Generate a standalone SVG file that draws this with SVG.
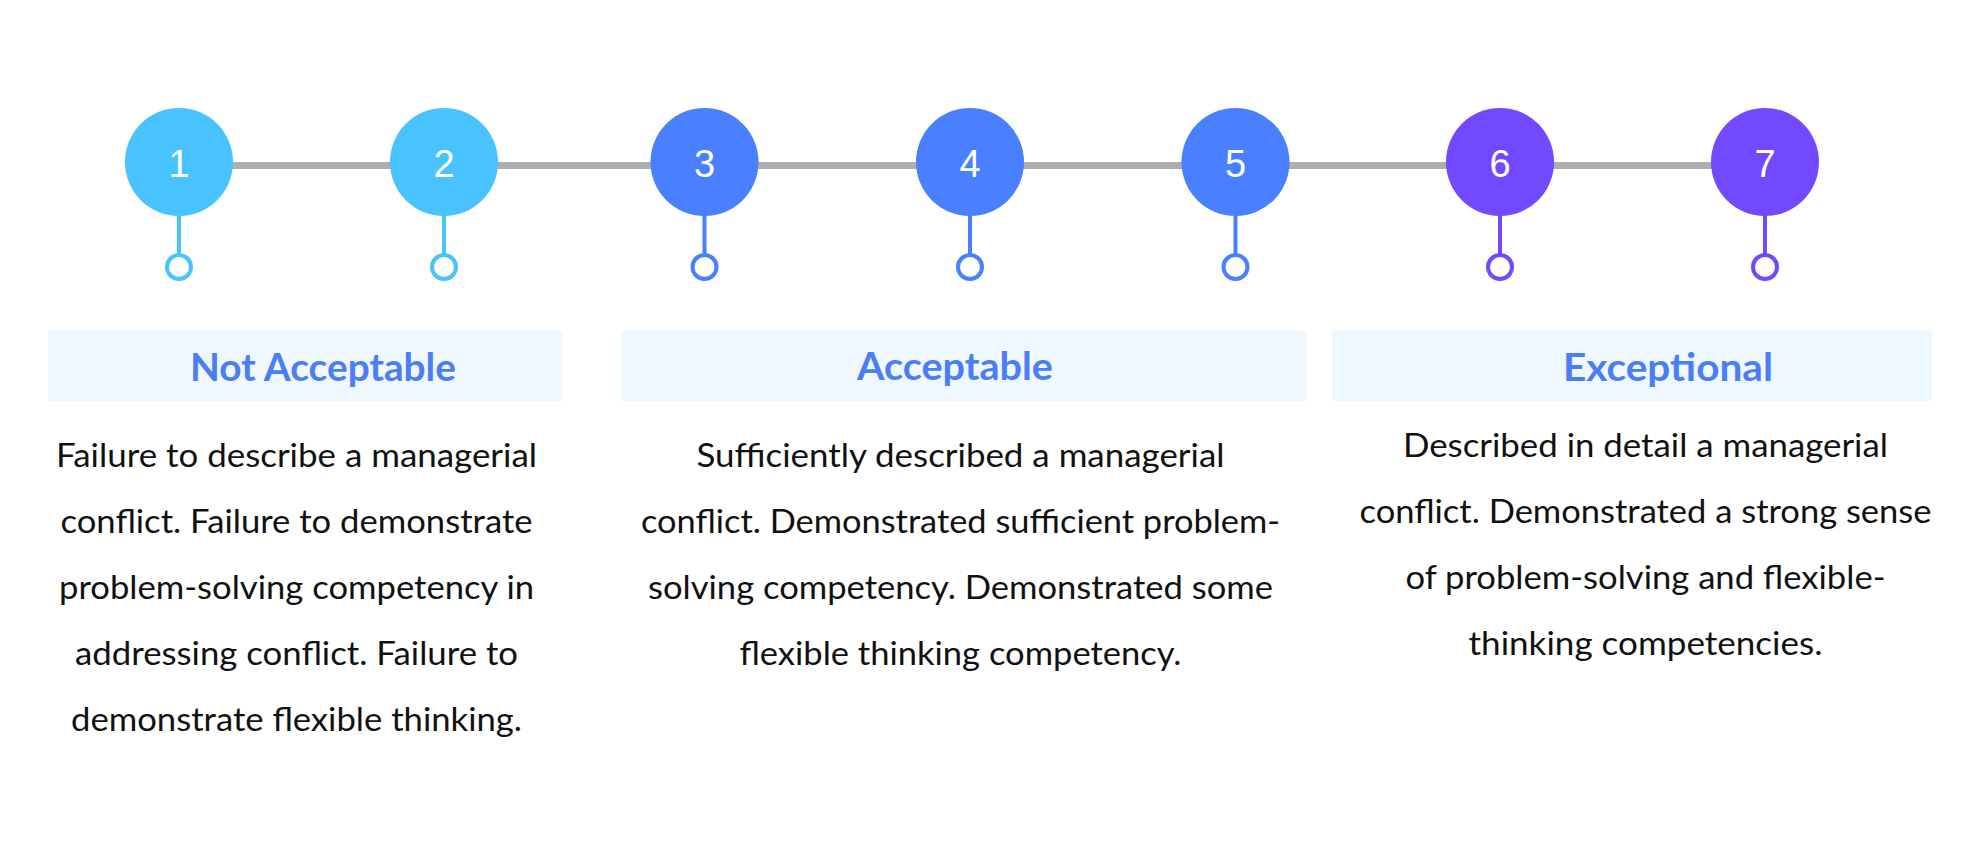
<svg xmlns="http://www.w3.org/2000/svg" width="1980" height="850" viewBox="0 0 1980 850">
<style>
.num{font-family:"Liberation Sans",Arial,sans-serif;font-size:38px;fill:#ffffff;text-anchor:middle}
.title{font-family:Lato,"Noto Sans",sans-serif;font-weight:bold;font-size:39px;fill:#4a7df6;text-anchor:middle}
.body{font-family:Lato,"Noto Sans",sans-serif;font-size:33px;fill:#111111;text-anchor:middle}
.box{fill:#eff7ff}
.c1{fill:#48c3ff}.c2{fill:#4880ff}.c3{fill:#7349ff}
.s1{stroke:#48c3ff}.s2{stroke:#4880ff}.s3{stroke:#7349ff}
.stem{stroke-width:4;fill:none}
.dot{stroke-width:4;fill:#ffffff}
</style>
<rect width="1980" height="850" fill="#ffffff"/>
<g id="connectors">
<line x1="179" y1="165.5" x2="1765" y2="165.5" stroke="#aeaeae" stroke-width="7"/>
<line class="stem s1" x1="179" y1="214" x2="179" y2="255"/>
<line class="stem s1" x1="444" y1="214" x2="444" y2="255"/>
<line class="stem s2" x1="704.5" y1="214" x2="704.5" y2="255"/>
<line class="stem s2" x1="970" y1="214" x2="970" y2="255"/>
<line class="stem s2" x1="1235.5" y1="214" x2="1235.5" y2="255"/>
<line class="stem s3" x1="1500" y1="214" x2="1500" y2="255"/>
<line class="stem s3" x1="1765" y1="214" x2="1765" y2="255"/>
</g>
<g id="step1"><circle class="c1" cx="179" cy="162" r="54"/><text class="num" x="179" y="177">1</text><circle class="dot s1" cx="179" cy="267" r="12"/></g>
<g id="step2"><circle class="c1" cx="444" cy="162" r="54"/><text class="num" x="444" y="177">2</text><circle class="dot s1" cx="444" cy="267" r="12"/></g>
<g id="step3"><circle class="c2" cx="704.5" cy="162" r="54"/><text class="num" x="704.5" y="177">3</text><circle class="dot s2" cx="704.5" cy="267" r="12"/></g>
<g id="step4"><circle class="c2" cx="970" cy="162" r="54"/><text class="num" x="970" y="177">4</text><circle class="dot s2" cx="970" cy="267" r="12"/></g>
<g id="step5"><circle class="c2" cx="1235.5" cy="162" r="54"/><text class="num" x="1235.5" y="177">5</text><circle class="dot s2" cx="1235.5" cy="267" r="12"/></g>
<g id="step6"><circle class="c3" cx="1500" cy="162" r="54"/><text class="num" x="1500" y="177">6</text><circle class="dot s3" cx="1500" cy="267" r="12"/></g>
<g id="step7"><circle class="c3" cx="1765" cy="162" r="54"/><text class="num" x="1765" y="177">7</text><circle class="dot s3" cx="1765" cy="267" r="12"/></g>
<g id="not-acceptable">
<rect class="box" x="48" y="331" width="514" height="70"/>
<text class="title" x="323" y="381" textLength="266" lengthAdjust="spacingAndGlyphs">Not Acceptable</text>
<text class="body" x="296.5" y="467" textLength="481" lengthAdjust="spacingAndGlyphs">Failure to describe a managerial</text>
<text class="body" x="296.5" y="533" textLength="472" lengthAdjust="spacingAndGlyphs">conflict. Failure to demonstrate</text>
<text class="body" x="296.5" y="599" textLength="475" lengthAdjust="spacingAndGlyphs">problem-solving competency in</text>
<text class="body" x="296.5" y="665" textLength="443" lengthAdjust="spacingAndGlyphs">addressing conflict. Failure to</text>
<text class="body" x="296.5" y="731" textLength="451" lengthAdjust="spacingAndGlyphs">demonstrate flexible thinking.</text>
</g>
<g id="acceptable">
<rect class="box" x="621" y="331" width="686" height="70"/>
<text class="title" x="955" y="379.5" textLength="196" lengthAdjust="spacingAndGlyphs">Acceptable</text>
<text class="body" x="960.5" y="467" textLength="528" lengthAdjust="spacingAndGlyphs">Sufficiently described a managerial</text>
<text class="body" x="960.5" y="533" textLength="639" lengthAdjust="spacingAndGlyphs">conflict. Demonstrated sufficient problem-</text>
<text class="body" x="960.5" y="599" textLength="625" lengthAdjust="spacingAndGlyphs">solving competency. Demonstrated some</text>
<text class="body" x="960.5" y="665" textLength="442" lengthAdjust="spacingAndGlyphs">flexible thinking competency.</text>
</g>
<g id="exceptional">
<rect class="box" x="1332" y="331" width="600" height="70"/>
<text class="title" x="1668" y="381" textLength="210" lengthAdjust="spacingAndGlyphs">Exceptional</text>
<text class="body" x="1645.5" y="457" textLength="485" lengthAdjust="spacingAndGlyphs">Described in detail a managerial</text>
<text class="body" x="1645.5" y="523" textLength="572" lengthAdjust="spacingAndGlyphs">conflict. Demonstrated a strong sense</text>
<text class="body" x="1645.5" y="589" textLength="480" lengthAdjust="spacingAndGlyphs">of problem-solving and flexible-</text>
<text class="body" x="1645.5" y="655" textLength="354" lengthAdjust="spacingAndGlyphs">thinking competencies.</text>
</g>
</svg>
